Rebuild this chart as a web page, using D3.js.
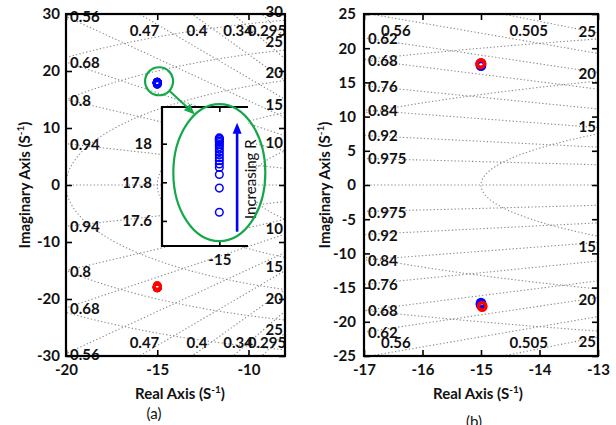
<!DOCTYPE html>
<html><head><meta charset="utf-8">
<script src="https://cdn.jsdelivr.net/npm/d3@7"></script>
<style>
html,body{margin:0;padding:0;background:#fff;}
svg{display:block;font-family:Lato,"Open Sans",sans-serif;}
</style></head><body>
<svg id="chart" width="616" height="425"></svg>
<script>
// ---- data -------------------------------------------------------------
// dominant pole pair, real part
const poleReal = -15;
// imaginary part of the upper dominant pole as R increases (panel a)
const poleImagA = [17.645, 17.77, 17.84, 17.877, 17.895, 17.912, 17.927, 17.943,
  17.958, 17.972, 17.985, 17.996, 18.006, 18.014, 18.021, 18.026, 18.03];
// panel b poles, [re, im]
const bluePolesB = [[-15.0, 17.45], [-15.0, 17.6], [-15.0, 17.75],
  [-15.0, -17.25], [-15.0, -17.4], [-15.0, -17.5]];
const redPolesB = [[-15.01, 17.7], [-15.0, 17.8], [-14.98, -17.7], [-14.98, -17.8]];

// s-plane grid: damping ratios and natural frequencies
const zetaA = [0.295, 0.34, 0.4, 0.47, 0.56, 0.68, 0.8, 0.94];
const wnA = [10, 15, 20, 25, 30];
const wnLabelsUpperA = [10, 15, 20, 25, 30];
const wnLabelsLowerA = [10, 15, 20, 25];
const zetaB = [0.505, 0.56, 0.62, 0.68, 0.76, 0.84, 0.92, 0.975];
const wnB = [15, 20, 25];
const wnLabelsUpperB = [15, 20, 25];
const wnLabelsLowerB = [15, 20, 25];

// axis ticks
const xTicksA = [-20, -15, -10];
const yTicksA = [-30, -20, -10, 0, 10, 20, 30];
const xTicksB = [-17, -16, -15, -14, -13];
const yTicksB = [-25, -20, -15, -10, -5, 0, 5, 10, 15, 20, 25];
const insetXTicks = [-15];
const insetYTicks = [17.6, 17.8, 18];

// ---- drawing ----------------------------------------------------------
const svg = d3.select("#chart");
const BLUE = "#0000ff", RED = "#ff0000", GREEN = "#14a84b";
const GRID = "#8a8a8a", INK = "#111";
const fmt = d => String(d);

function styleAxis(sel, withText) {
  sel.select(".domain").remove();
  sel.selectAll(".tick line").attr("stroke", "#000").attr("stroke-width", 1.6);
  sel.selectAll(".tick text")
    .attr("fill", INK).attr("font-size", 15).attr("font-weight", 700)
    .style("font-family", "Lato, 'Open Sans', sans-serif");
  if (!withText) sel.selectAll(".tick text").remove();
}

function drawPanel(cfg) {
  const x = d3.scaleLinear().domain(cfg.xDom).range(cfg.xRange);
  const y = d3.scaleLinear().domain(cfg.yDom).range(cfg.yRange);
  const [x0, x1] = cfg.xRange, [y0, y1] = cfg.yRange; // y0 bottom, y1 top
  const g = svg.append("g");

  g.append("clipPath").attr("id", cfg.id + "-clip")
    .append("rect").attr("x", x0).attr("y", y1).attr("width", x1 - x0).attr("height", y0 - y1);
  const grid = g.append("g").attr("clip-path", `url(#${cfg.id}-clip)`);
  const line = d3.line().x(d => x(d[0])).y(d => y(d[1]));
  const gridStyle = s => s.attr("fill", "none").attr("stroke", GRID)
    .attr("stroke-width", 1.1).attr("stroke-dasharray", "1.3,2.2");

  // constant damping rays (plus the negative real axis, zeta = 1)
  const far = 200;
  cfg.zeta.forEach(z => {
    const k = Math.sqrt(1 - z * z) / z;
    [1, -1].forEach(sgn => grid.append("path")
      .attr("d", line([[0, 0], [-far, sgn * far * k]])).call(gridStyle));
  });
  grid.append("path").attr("d", line([[0, 0], [-far, 0]])).call(gridStyle);

  // constant natural-frequency arcs
  cfg.wn.forEach(r => {
    const pts = d3.range(90, 270.01, 0.5).map(a => {
      const t = a * Math.PI / 180;
      return [r * Math.cos(t), r * Math.sin(t)];
    });
    grid.append("path").attr("d", line(pts)).call(gridStyle);
  });

  // damping labels where each ray enters the plotting box
  const lab = g.append("g").attr("fill", INK).attr("font-size", 15).attr("font-weight", 700);
  const xmin = cfg.xDom[0], ymax = cfg.yDom[1];
  cfg.zeta.forEach(z => {
    const k = Math.sqrt(1 - z * z) / z;
    const yEdge = k * Math.abs(xmin);
    [1, -1].forEach(sgn => {
      if (yEdge <= ymax) {
        lab.append("text").attr("x", x0 + 4).attr("y", y(sgn * yEdge))
          .attr("dominant-baseline", "central").text(fmt(z));
      } else {
        const xe = -ymax / k;
        lab.append("text").attr("x", x(xe) + cfg.topLabelDx)
          .attr("y", sgn > 0 ? y1 + 16 : y0 - 14)
          .attr("text-anchor", "middle").attr("dominant-baseline", "central").text(fmt(z));
      }
    });
  });

  // natural-frequency labels at the right edge
  const xr = cfg.xDom[1];
  cfg.wnUpper.forEach(r => {
    const yy = Math.sqrt(r * r - xr * xr);
    lab.append("text").attr("x", x1 - 2).attr("y", y(yy) - cfg.wnUp)
      .attr("text-anchor", "end").attr("dominant-baseline", "central").text(r);
  });
  cfg.wnLower.forEach(r => {
    const yy = Math.sqrt(r * r - xr * xr);
    lab.append("text").attr("x", x1 - 2).attr("y", y(-yy) + cfg.wnDown)
      .attr("text-anchor", "end").attr("dominant-baseline", "central").text(r);
  });

  // axes (ticks pointing inward on all four sides)
  g.append("g").attr("transform", `translate(0,${y0})`)
    .call(d3.axisBottom(x).tickValues(cfg.xTicks).tickSize(-6).tickPadding(8).tickFormat(fmt))
    .call(s => styleAxis(s, true));
  g.append("g").attr("transform", `translate(0,${y1})`)
    .call(d3.axisTop(x).tickValues(cfg.xTicks).tickSize(-6).tickFormat(fmt))
    .call(s => styleAxis(s, false));
  g.append("g").attr("transform", `translate(${x0},0)`)
    .call(d3.axisLeft(y).tickValues(cfg.yTicks).tickSize(-6).tickPadding(cfg.yPad).tickFormat(fmt))
    .call(s => styleAxis(s, true));
  g.append("g").attr("transform", `translate(${x1},0)`)
    .call(d3.axisRight(y).tickValues(cfg.yTicks).tickSize(-6).tickFormat(fmt))
    .call(s => styleAxis(s, false));

  g.append("rect").attr("x", x0).attr("y", y1).attr("width", x1 - x0).attr("height", y0 - y1)
    .attr("fill", "none").attr("stroke", "#000").attr("stroke-width", 2.2);

  // axis titles
  const yt = svg.append("text").attr("transform", `translate(${cfg.yTitleX},185) rotate(-90)`)
    .attr("text-anchor", "middle").attr("dy", "0.35em")
    .attr("font-size", 15).attr("font-weight", 700).attr("fill", INK);
  yt.append("tspan").text("Imaginary Axis (S");
  yt.append("tspan").attr("dy", -6).attr("font-size", 10).text("-1");
  yt.append("tspan").attr("dy", 6).text(")");
  const xt = svg.append("text").attr("x", cfg.xTitleX).attr("y", 399)
    .attr("text-anchor", "middle").attr("font-size", 15).attr("font-weight", 700).attr("fill", INK);
  xt.append("tspan").text("Real Axis (S");
  xt.append("tspan").attr("dy", -6).attr("font-size", 10).text("-1");
  xt.append("tspan").attr("dy", 6).text(")");
  svg.append("text").attr("x", cfg.capX).attr("y", cfg.capY).attr("text-anchor", "middle")
    .attr("font-size", 15).attr("fill", INK).text(cfg.caption);

  return { g, x, y };
}

// ---- panel (a) --------------------------------------------------------
const A = drawPanel({
  id: "pa", xDom: [-20, -8], xRange: [66, 285], yDom: [-30, 30], yRange: [356, 14],
  zeta: zetaA, wn: wnA, wnUpper: wnLabelsUpperA, wnLower: wnLabelsLowerA,
  xTicks: xTicksA, yTicks: yTicksA, yPad: 6, topLabelDx: 5, wnUp: 9, wnDown: 9,
  yTitleX: 25, xTitleX: 180, capX: 154, capY: 419, caption: "(a)"
});
const ringA = (sel, data, color) => sel.selectAll(null).data(data).join("circle")
  .attr("cx", d => A.x(d[0])).attr("cy", d => A.y(d[1])).attr("r", 3.3)
  .attr("fill", "none").attr("stroke", color).attr("stroke-width", 2.4);
const markA = A.g.append("g");
ringA(markA, poleImagA.map(v => [poleReal, v]), BLUE);
ringA(markA, poleImagA.map(v => [poleReal, -v]), RED);

// zoomed inset of the upper pole
const inset = { l: 162, r: 248, t: 107, b: 246 };
const ix = d3.scaleLinear().domain([-15.2, -14.9]).range([inset.l, inset.r]);
const iy = d3.scaleLinear().domain([17.47, 18.19]).range([inset.b, inset.t]);
const ig = svg.append("g");
ig.append("rect").attr("x", inset.l).attr("y", inset.t)
  .attr("width", inset.r - inset.l).attr("height", inset.b - inset.t).attr("fill", "#fff");
ig.selectAll(null).data(poleImagA).join("circle")
  .attr("cx", ix(poleReal)).attr("cy", d => iy(d)).attr("r", 3.8)
  .attr("fill", "none").attr("stroke", BLUE).attr("stroke-width", 1.5);
ig.append("g").attr("transform", `translate(${inset.l},0)`)
  .call(d3.axisLeft(iy).tickValues(insetYTicks).tickSize(-5).tickPadding(10).tickFormat(fmt))
  .call(s => styleAxis(s, true));
ig.append("g").attr("transform", `translate(0,${inset.b})`)
  .call(d3.axisBottom(ix).tickValues(insetXTicks).tickSize(-5).tickPadding(8).tickFormat(fmt))
  .call(s => styleAxis(s, true));
ig.append("g").attr("transform", `translate(0,${inset.t})`)
  .call(d3.axisTop(ix).tickValues(insetXTicks).tickSize(-5).tickFormat(fmt))
  .call(s => styleAxis(s, false));
ig.append("path")
  .attr("d", `M${inset.r},${inset.t}H${inset.l}V${inset.b}H${inset.r}`)
  .attr("fill", "none").attr("stroke", "#000").attr("stroke-width", 2.2);

// "Increasing R" arrow inside the inset
const arX = ix(-14.938), arY0 = iy(17.544), arY1 = iy(18.109);
ig.append("line").attr("x1", arX).attr("x2", arX).attr("y1", arY0).attr("y2", arY1 + 9)
  .attr("stroke", BLUE).attr("stroke-width", 2.6);
ig.append("path").attr("d", `M${arX},${arY1}L${arX - 4.5},${arY1 + 11}L${arX + 4.5},${arY1 + 11}Z`)
  .attr("fill", BLUE);
ig.append("text").attr("transform", `translate(${arX + 13},${(arY0 + arY1) / 2 + 2}) rotate(-90)`)
  .attr("text-anchor", "middle").attr("dominant-baseline", "central")
  .attr("font-size", 15).attr("fill", INK).text("Increasing R");

// green highlight: circle round the pole, ellipse round the zoomed view, arrow between
const ell = { cx: ix(-15), cy: iy(17.85), rx: 46, ry: 68.5 };
ig.append("ellipse").attr("cx", ell.cx).attr("cy", ell.cy).attr("rx", ell.rx).attr("ry", ell.ry)
  .attr("fill", "none").attr("stroke", GREEN).attr("stroke-width", 2.2);
const cc = { x: A.x(-14.9), y: A.y(18.2), r: 14 };
svg.append("circle").attr("cx", cc.x).attr("cy", cc.y).attr("r", cc.r)
  .attr("fill", "none").attr("stroke", GREEN).attr("stroke-width", 2.2);
const tAng = -122 * Math.PI / 180;
const tip = [ell.cx + ell.rx * Math.cos(tAng), ell.cy + ell.ry * Math.sin(tAng)];
const dir = [tip[0] - cc.x, tip[1] - cc.y];
const len = Math.hypot(dir[0], dir[1]);
const u = [dir[0] / len, dir[1] / len];
const st = [cc.x + u[0] * cc.r, cc.y + u[1] * cc.r];
const hb = [tip[0] - u[0] * 11, tip[1] - u[1] * 11];
svg.append("line").attr("x1", st[0]).attr("y1", st[1]).attr("x2", hb[0]).attr("y2", hb[1])
  .attr("stroke", GREEN).attr("stroke-width", 2);
svg.append("path")
  .attr("d", `M${tip[0]},${tip[1]}L${hb[0] - u[1] * 4.5},${hb[1] + u[0] * 4.5}L${hb[0] + u[1] * 4.5},${hb[1] - u[0] * 4.5}Z`)
  .attr("fill", GREEN);

// ---- panel (b) --------------------------------------------------------
const B = drawPanel({
  id: "pb", xDom: [-17, -13], xRange: [364, 598], yDom: [-25, 25], yRange: [356, 14],
  zeta: zetaB, wn: wnB, wnUpper: wnLabelsUpperB, wnLower: wnLabelsLowerB,
  xTicks: xTicksB, yTicks: yTicksB, yPad: 8, topLabelDx: 26, wnUp: 8, wnDown: 10,
  yTitleX: 325, xTitleX: 478, capX: 474, capY: 427, caption: "(b)"
});
const ringB = (data, color) => B.g.append("g").selectAll(null).data(data).join("circle")
  .attr("cx", d => B.x(d[0])).attr("cy", d => B.y(d[1])).attr("r", 3.8)
  .attr("fill", "none").attr("stroke", color).attr("stroke-width", 3);
ringB(bluePolesB, BLUE);
ringB(redPolesB, RED);
</script>
</body></html>
